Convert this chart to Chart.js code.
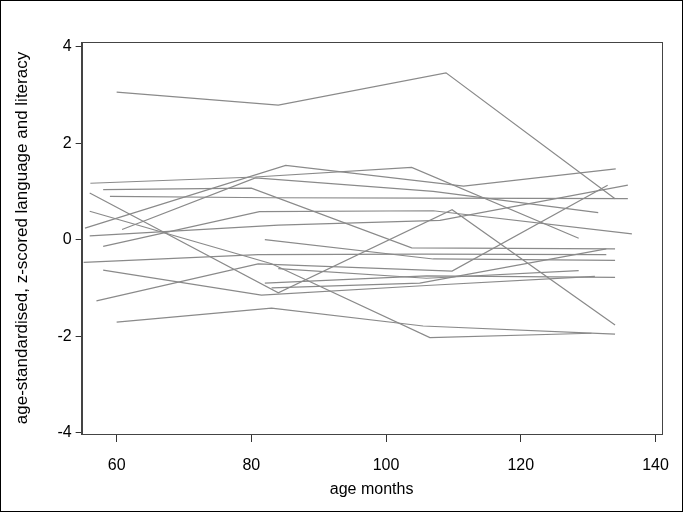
<!DOCTYPE html>
<html>
<head>
    <script src="https://cdn.jsdelivr.net/npm/chart.js"></script>
    <style>
        body { margin: 0; background: #fff; }
    </style>
</head>
<body>
    <canvas id="chartId" width="683" height="512"></canvas>
    <script>
        // ages (months) and scores for each child, one row per child
        const subjectAges = [
            [60, 84, 108.9, 134],
            [55.3, 85.1, 111.5, 134.1],
            [56.1, 80.6, 103.8, 128.6],
            [60.8, 80.6, 107, 131.5],
            [58, 80, 103.8, 134],
            [56, 84, 109.8, 134],
            [60, 83, 105.5, 134],
            [56, 83, 106.5, 130.5],
            [59, 83, 107, 135.9],
            [56, 84, 108, 135.9],
            [58, 81.2, 107, 136.5],
            [55.1, 81, 106, 132.7],
            [57, 81, 109.8, 132.9],
            [58, 81.5, 106, 131],
            [82, 106, 134],
            [83, 105, 132.7],
            [82, 107, 134],
            [84, 106, 128.6]
        ];
        const subjectScores = [
            [3.06, 2.79, 3.46, 0.85],
            [0.24, 1.54, 1.11, 1.47],
            [1.17, 1.3, 1.5, 0.03],
            [0.21, 1.28, 1.0, 0.56],
            [1.04, 1.07, -0.17, -0.19],
            [0.97, -1.1, 0.62, -1.77],
            [-1.71, -1.42, -1.79, -1.96],
            [0.59, -0.5, -2.03, -1.94],
            [0.9, 0.87, 0.86, 0.85],
            [0.08, 0.3, 0.4, 1.13],
            [-0.14, 0.58, 0.6, 0.12],
            [-0.47, -0.31, -0.3, -0.31],
            [-1.27, -0.5, -0.65, 1.13],
            [-0.63, -1.15, -0.95, -0.76],
            [-0.9, -0.75, -0.78],
            [-1.0, -0.9, -0.19],
            [0.0, -0.4, -0.43],
            [-0.6, -0.8, -0.64]
        ];
        const xTicks = [60, 80, 100, 120, 140];
        const yTicks = [-4, -2, 0, 2, 4];

        const datasets = subjectAges.map((ages, i) => ({
            data: ages.map((a, j) => ({ x: a, y: subjectScores[i][j] })),
            showLine: true,
            borderColor: '#8a8a8a',
            borderWidth: 1.2,
            pointRadius: 0,
            fill: false
        }));

        // frame round the plot and round the whole picture
        const frame = {
            id: 'frame',
            afterDraw(chart) {
                const { ctx, chartArea: a } = chart;
                ctx.save();
                ctx.strokeStyle = '#444';
                ctx.lineWidth = 1;
                ctx.strokeRect(Math.round(a.left) + 0.5, Math.round(a.top) + 0.5,
                    Math.round(a.right - a.left), Math.round(a.bottom - a.top));
                ctx.strokeStyle = '#000';
                ctx.strokeRect(0.5, 0.5, chart.width - 1, chart.height - 1);
                ctx.restore();
            }
        };

        const font = { family: "'Liberation Sans', Arial, sans-serif", size: 16 };

        new Chart(document.getElementById('chartId'), {
            type: 'scatter',
            data: { datasets: datasets },
            options: {
                responsive: false,
                animation: false,
                plugins: { legend: { display: false }, tooltip: { enabled: false } },
                layout: { padding: { top: 42, right: 17, left: 12, bottom: 12.4 } },
                scales: {
                    x: {
                        type: 'linear',
                        min: 54.8,
                        max: 140.9,
                        afterBuildTicks: s => { s.ticks = xTicks.map(v => ({ value: v })); },
                        grid: { drawOnChartArea: false, tickLength: 8, color: '#333', tickColor: '#333' },
                        border: { color: '#444' },
                        ticks: { color: '#000', font: font, padding: 14, maxRotation: 0 },
                        title: { display: true, text: 'age months', color: '#000', font: font, padding: { top: -8.8, bottom: 0 } }
                    },
                    y: {
                        type: 'linear',
                        min: -4.03,
                        max: 4.1,
                        afterBuildTicks: s => { s.ticks = yTicks.map(v => ({ value: v })); },
                        grid: { drawOnChartArea: false, tickLength: 6, color: '#333', tickColor: '#333' },
                        border: { color: '#444' },
                        ticks: { color: '#000', font: font, padding: 4 },
                        title: { display: true, text: 'age-standardised, z-scored language and literacy', color: '#000',
                            font: { family: font.family, size: 17 }, padding: { top: 0, bottom: 21 } }
                    }
                }
            },
            plugins: [frame]
        });
    </script>
</body>
</html>
